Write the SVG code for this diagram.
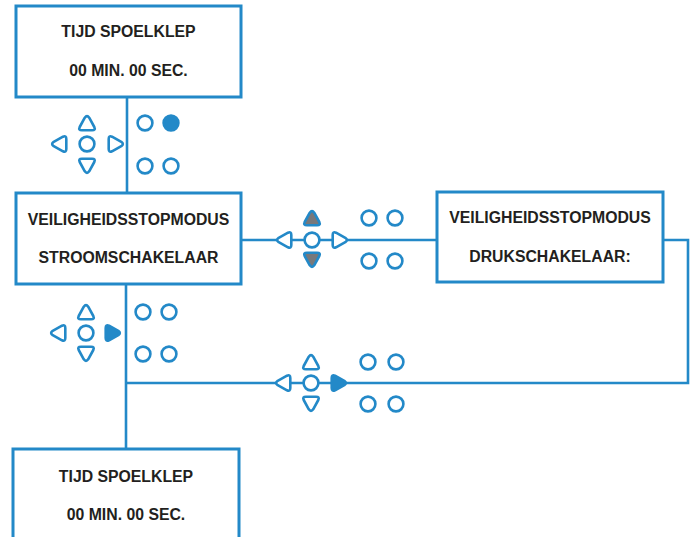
<svg xmlns="http://www.w3.org/2000/svg" xmlns:xlink="http://www.w3.org/1999/xlink" width="696" height="537" viewBox="0 0 696 537">
<style>
.box{fill:#fff;stroke:#2389c8;stroke-width:3}
.wire{fill:none;stroke:#2389c8;stroke-width:2.6}
.t{font-family:"Liberation Sans",Arial,sans-serif;font-weight:bold;font-size:15.8px;fill:#231f20;text-anchor:middle}
.o{fill:#fff;stroke:#2389c8;stroke-width:2.6}
.fb{fill:#2389c8;stroke:#2389c8;stroke-width:2.6}
.fg{fill:#77787b;stroke:#2389c8;stroke-width:2.6}
</style>
<defs>
<path id="tri" d="M -2.2,-5.3 Q 0,-8.4 2.2,-5.3 L 7.3,4 Q 8.8,7.3 5.1,7.3 L -5.1,7.3 Q -8.8,7.3 -7.3,4 Z" stroke-linejoin="round"/>
<circle id="dot" r="7.4"/>
</defs>
<g id="connectors">
<line class="wire" x1="127" y1="97" x2="127" y2="193"/>
<line class="wire" x1="126" y1="284" x2="126" y2="449"/>
<line class="wire" x1="241" y1="240" x2="437" y2="240"/>
<path class="wire" d="M663,240 H688 V383 H126"/>
</g>
<g id="box1">
<rect class="box" x="16" y="6" width="225" height="91"/>
<text class="t" x="128.5" y="37">TIJD SPOELKLEP</text>
<text class="t" x="128.5" y="76">00 MIN. 00 SEC.</text>
</g>
<g id="box2">
<rect class="box" x="16" y="193" width="225" height="91"/>
<text class="t" x="128.5" y="225">VEILIGHEIDSSTOPMODUS</text>
<text class="t" x="128.5" y="263">STROOMSCHAKELAAR</text>
</g>
<g id="box3">
<rect class="box" x="437" y="192" width="226" height="90"/>
<text class="t" x="550" y="223">VEILIGHEIDSSTOPMODUS</text>
<text class="t" x="550" y="262">DRUKSCHAKELAAR:</text>
</g>
<g id="box4">
<rect class="box" x="13" y="449" width="226" height="100"/>
<text class="t" x="126" y="482">TIJD SPOELKLEP</text>
<text class="t" x="126" y="520">00 MIN. 00 SEC.</text>
</g>
<g id="keypad1" transform="translate(87,144)">
<use href="#tri" class="o" transform="translate(0,-21)"/>
<use href="#tri" class="o" transform="translate(0,22) rotate(180)"/>
<use href="#tri" class="o" transform="translate(-28,0) rotate(-90)"/>
<use href="#tri" class="o" transform="translate(29,0) rotate(90)"/>
<use href="#dot" class="o"/>
<use href="#dot" class="o" x="58" y="-21"/>
<use href="#dot" class="fb" x="84" y="-21"/>
<use href="#dot" class="o" x="58" y="22"/>
<use href="#dot" class="o" x="84" y="22"/>
</g>
<g id="keypad2" transform="translate(86,333)">
<use href="#tri" class="o" transform="translate(0,-21)"/>
<use href="#tri" class="o" transform="translate(0,21) rotate(180)"/>
<use href="#tri" class="o" transform="translate(-28,0) rotate(-90)"/>
<use href="#tri" class="fb" transform="translate(27,0) rotate(90)"/>
<use href="#dot" class="o"/>
<use href="#dot" class="o" x="57" y="-21"/>
<use href="#dot" class="o" x="83" y="-21"/>
<use href="#dot" class="o" x="57" y="21"/>
<use href="#dot" class="o" x="83" y="21"/>
</g>
<g id="keypad3" transform="translate(312,240)">
<use href="#tri" class="fg" transform="translate(0,-22)"/>
<use href="#tri" class="fg" transform="translate(0,20) rotate(180)"/>
<use href="#tri" class="o" transform="translate(-28,0) rotate(-90)"/>
<use href="#tri" class="o" transform="translate(28,0) rotate(90)"/>
<use href="#dot" class="o"/>
<use href="#dot" class="o" x="57" y="-22"/>
<use href="#dot" class="o" x="83" y="-22"/>
<use href="#dot" class="o" x="57" y="21"/>
<use href="#dot" class="o" x="83" y="21"/>
</g>
<g id="keypad4" transform="translate(311,383)">
<use href="#tri" class="o" transform="translate(0,-21)"/>
<use href="#tri" class="o" transform="translate(0,21) rotate(180)"/>
<use href="#tri" class="o" transform="translate(-28,0) rotate(-90)"/>
<use href="#tri" class="fb" transform="translate(28,0) rotate(90)"/>
<use href="#dot" class="o"/>
<use href="#dot" class="o" x="57" y="-21"/>
<use href="#dot" class="o" x="85" y="-21"/>
<use href="#dot" class="o" x="57" y="21"/>
<use href="#dot" class="o" x="85" y="21"/>
</g>
</svg>
